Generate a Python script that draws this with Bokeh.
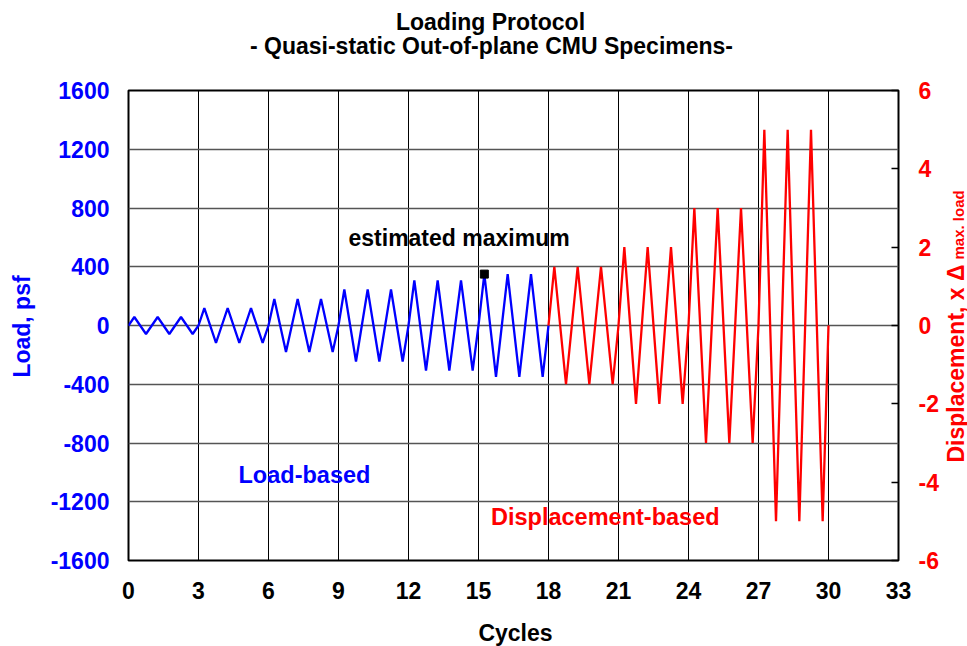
import math
from bokeh.plotting import figure
from bokeh.models import Range1d, LinearAxis, Label, FixedTicker
from bokeh.embed import file_html
from bokeh.resources import INLINE

# ---- protocol data -------------------------------------------------------
# Load-based phase: peak load (psf) applied in each of cycles 0-17
load_amp = [58, 58, 58, 118, 118, 118, 180, 180, 180,
            245, 245, 245, 307, 307, 307, 350, 350, 350]
load_start_cycle = 0
# Displacement-based phase: peak displacement (x delta at max. load), cycles 18-29
disp_amp = [1.5, 1.5, 1.5, 2.0, 2.0, 2.0, 3.0, 3.0, 3.0, 5.0, 5.0, 5.0]
disp_start_cycle = 18
# Estimated maximum load
est_max_cycle = [15.25]
est_max_load = [350]

x_ticks = [0, 3, 6, 9, 12, 15, 18, 21, 24, 27, 30, 33]
load_ticks = [-1600, -1200, -800, -400, 0, 400, 800, 1200, 1600]
disp_ticks = [-6, -4, -2, 0, 2, 4, 6]

X0, X1 = 0, 33
Y0, Y1 = -1600, 1600
D0, D1 = -6, 6

# ---- layout (pixels) -----------------------------------------------------
W, H = 967, 646
FL, FR, FT, FB = 128, 898, 90, 560
FONT = "Liberation Sans"
BLUE, RED = "#0000FF", "#FF0000"


def dx(px):
    return X0 + (px - FL) / (FR - FL) * (X1 - X0)


def dy(py):
    return Y1 - (py - FT) / (FB - FT) * (Y1 - Y0)


def cycle_path(amps, start):
    """Each cycle: zero, positive peak at 1/4, negative peak at 3/4."""
    xs, ys = [], []
    for i, a in enumerate(amps):
        c = start + i
        xs += [c, c + 0.25, c + 0.75]
        ys += [0, a, -a]
    xs.append(start + len(amps))
    ys.append(0)
    return xs, ys


p = figure(width=W, height=H,
           x_range=Range1d(X0, X1), y_range=Range1d(Y0, Y1),
           output_backend="svg", toolbar_location=None,
           min_border_left=FL, min_border_right=W - FR,
           min_border_top=FT, min_border_bottom=H - FB)
p.extra_y_ranges = {"disp": Range1d(D0, D1)}

p.outline_line_color = "black"
p.outline_line_width = 2
p.background_fill_color = "white"
p.border_fill_color = "white"

# grid
p.xgrid.ticker = FixedTicker(ticks=x_ticks)
p.xgrid.grid_line_color = "black"
p.xgrid.grid_line_width = 1
p.ygrid.ticker = FixedTicker(ticks=load_ticks)
p.ygrid.grid_line_color = "#555555"
p.ygrid.grid_line_width = 1.5


def style_axis(ax, ticks, color, standoff):
    ax.ticker = FixedTicker(ticks=ticks)
    ax.major_label_overrides = {t: str(t) for t in ticks}
    ax.axis_line_color = None
    ax.major_tick_in = 0
    ax.major_tick_out = 0
    ax.minor_tick_line_color = None
    ax.major_label_text_font = FONT
    ax.major_label_text_font_style = "bold"
    ax.major_label_text_font_size = "23px"
    ax.major_label_text_color = color
    ax.major_label_standoff = standoff


style_axis(p.xaxis[0], x_ticks, "black", 21)
style_axis(p.yaxis[0], load_ticks, BLUE, 19)

rax = LinearAxis(y_range_name="disp")
style_axis(rax, disp_ticks, RED, 20)
rax.major_tick_in = 7
rax.major_tick_line_color = "black"
rax.major_tick_line_width = 1.5
p.add_layout(rax, "right")

# series
lx, ly = cycle_path(load_amp, load_start_cycle)
p.line(lx, ly, line_color=BLUE, line_width=2.3)
rx, ry = cycle_path(disp_amp, disp_start_cycle)
p.line(rx, ry, line_color=RED, line_width=2.3, y_range_name="disp")
p.scatter(est_max_cycle, est_max_load, marker="square", size=8,
          fill_color="black", line_color="black")


def label(text, px, py, color="black", size="23px", align="left",
          angle=0.0, place=None):
    """Text anchored at its vertical middle, placed by pixel position."""
    lab = Label(x=dx(px), y=dy(py), text=text, text_color=color,
                text_font=FONT, text_font_style="bold",
                text_font_size=size, text_align=align,
                text_baseline="middle", angle=angle)
    if place is None:
        p.add_layout(lab)
    else:
        p.add_layout(lab, place)


# two-line chart title and the x-axis title
label("Loading Protocol", 490, 21, align="center", place="above")
label("- Quasi-static Out-of-plane CMU Specimens-", 491, 45, align="center",
      place="above")
label("Cycles", 515, 632, align="center", place="above")

# in-plot notes
label("estimated maximum", 348, 237)
label("Load-based", 238, 474, color=BLUE, size="23.5px")
label("Displacement-based", 490.5, 516, color=RED, size="23.5px")

# y-axis titles (right one carries a subscript)
label("Load, psf", 21.5, 326, color=BLUE, align="center",
      angle=math.pi / 2, place="left")
label("Displacement,  x \u0394", 955, 462, color=RED, angle=math.pi / 2,
      place="right")
label("max. load", 957.5, 259, color=RED, size="15px", angle=math.pi / 2,
      place="left")

open("out.html", "w").write(file_html(p, INLINE))
